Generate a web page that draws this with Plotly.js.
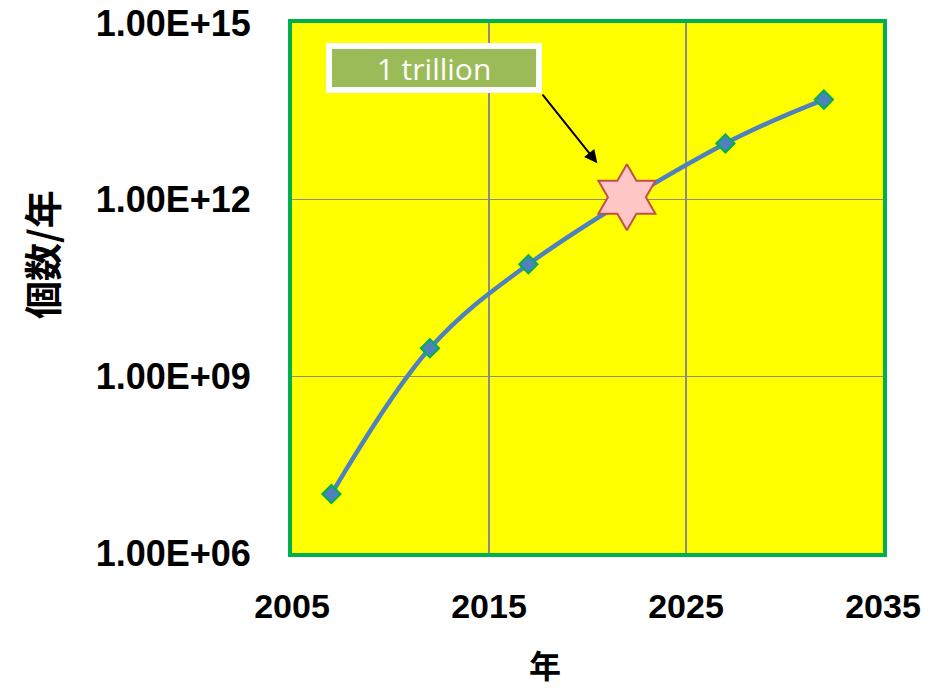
<!DOCTYPE html>
<html>
<head>
<meta charset="utf-8">
<script src="https://cdn.plot.ly/plotly-3.0.1.min.js"></script>
<style>html,body{margin:0;padding:0;background:#fff;}#chart{width:943px;height:690px;}</style>
</head>
<body>
<div id="chart"></div>
<script>
// Data
var years = [2007, 2012, 2017, 2027, 2032];
var counts = [1.0e7, 3.0e9, 8.0e10, 9.0e12, 5.0e13];
var starYear = [2022];
var starCount = [1.1e12];
var yTickVals = [1e6, 1e9, 1e12, 1e15];
var yTickText = ['1.00E+06', '1.00E+09', '1.00E+12', '1.00E+15'];
var xTickVals = [2005, 2015, 2025, 2035];
var annotationText = '1 trillion';
var xTitle = '年';
var yTitle = '個数/年';

var traces = [
  {
    x: years, y: counts, type: 'scatter', mode: 'lines+markers',
    line: {color: '#4F81BD', width: 4.5, shape: 'spline', smoothing: 1},
    marker: {symbol: 'diamond', size: 14, color: '#4F81BD', line: {color: '#00B050', width: 2}},
    hoverinfo: 'skip', cliponaxis: false
  },
  {
    x: starYear, y: starCount, type: 'scatter', mode: 'markers',
    marker: {symbol: 'hexagram', size: 50, color: '#FFC6C6', line: {color: '#C0504D', width: 2}},
    hoverinfo: 'skip', cliponaxis: false
  }
];

var layout = {
  width: 943, height: 690,
  margin: {l: 292, r: 60, t: 23, b: 137},
  paper_bgcolor: '#FFFFFF',
  plot_bgcolor: '#FFFF00',
  showlegend: false,
  xaxis: {
    range: [2005, 2035],
    tickvals: xTickVals,
    showgrid: true, gridcolor: '#8C8C8C', gridwidth: 1.3,
    zeroline: false,
    showline: true, mirror: true, linecolor: '#00B050', linewidth: 4,
    ticks: '', ticklen: 0, ticklabelstandoff: 20,
    tickfont: {family: 'Liberation Sans, Arial, sans-serif', size: 34, color: '#000', weight: 'bold'}
  },
  yaxis: {
    type: 'log',
    range: [6, 15],
    tickvals: yTickVals, ticktext: yTickText,
    showgrid: true, gridcolor: '#8C8C8C', gridwidth: 1.3,
    zeroline: false,
    showline: true, mirror: true, linecolor: '#00B050', linewidth: 4,
    ticks: '', ticklen: 0, ticklabelstandoff: 30,
    tickfont: {family: 'Liberation Sans, Arial, sans-serif', size: 36, color: '#000', weight: 'bold'}
  },
  annotations: [
    {
      xref: 'x', yref: 'y', x: 2020.5, y: 12.62,
      ax: -56, ay: -70, axref: 'pixel', ayref: 'pixel',
      text: '', showarrow: true, arrowhead: 2, arrowsize: 1.3, arrowwidth: 2, arrowcolor: '#000'
    },
    {
      xref: 'paper', yref: 'paper', x: (434 - 292) / 591, y: (553 - 68) / 530,
      xanchor: 'center', yanchor: 'middle',
      text: annotationText, showarrow: false,
      font: {family: 'Open Sans, sans-serif', size: 30, color: '#FFFFFF'},
      bgcolor: '#9BBB59', bordercolor: '#FFFFFF', borderwidth: 6, borderpad: 1,
      width: 202, height: 36
    },
    {
      xref: 'paper', yref: 'paper', x: (545 - 292) / 591, y: (553 - 664) / 530,
      xanchor: 'center', yanchor: 'middle', showarrow: false,
      text: xTitle,
      font: {family: 'Noto Sans CJK JP, sans-serif', size: 32, color: '#000', weight: 'bold'}
    },
    {
      xref: 'paper', yref: 'paper', x: (40 - 292) / 591, y: (553 - 255) / 530,
      xanchor: 'center', yanchor: 'middle', showarrow: false, textangle: -90,
      text: yTitle,
      font: {family: 'Noto Sans CJK JP, sans-serif', size: 38, color: '#000', weight: 'bold'}
    }
  ]
};

Plotly.newPlot('chart', traces, layout, {displayModeBar: false, staticPlot: true});
</script>
</body>
</html>
